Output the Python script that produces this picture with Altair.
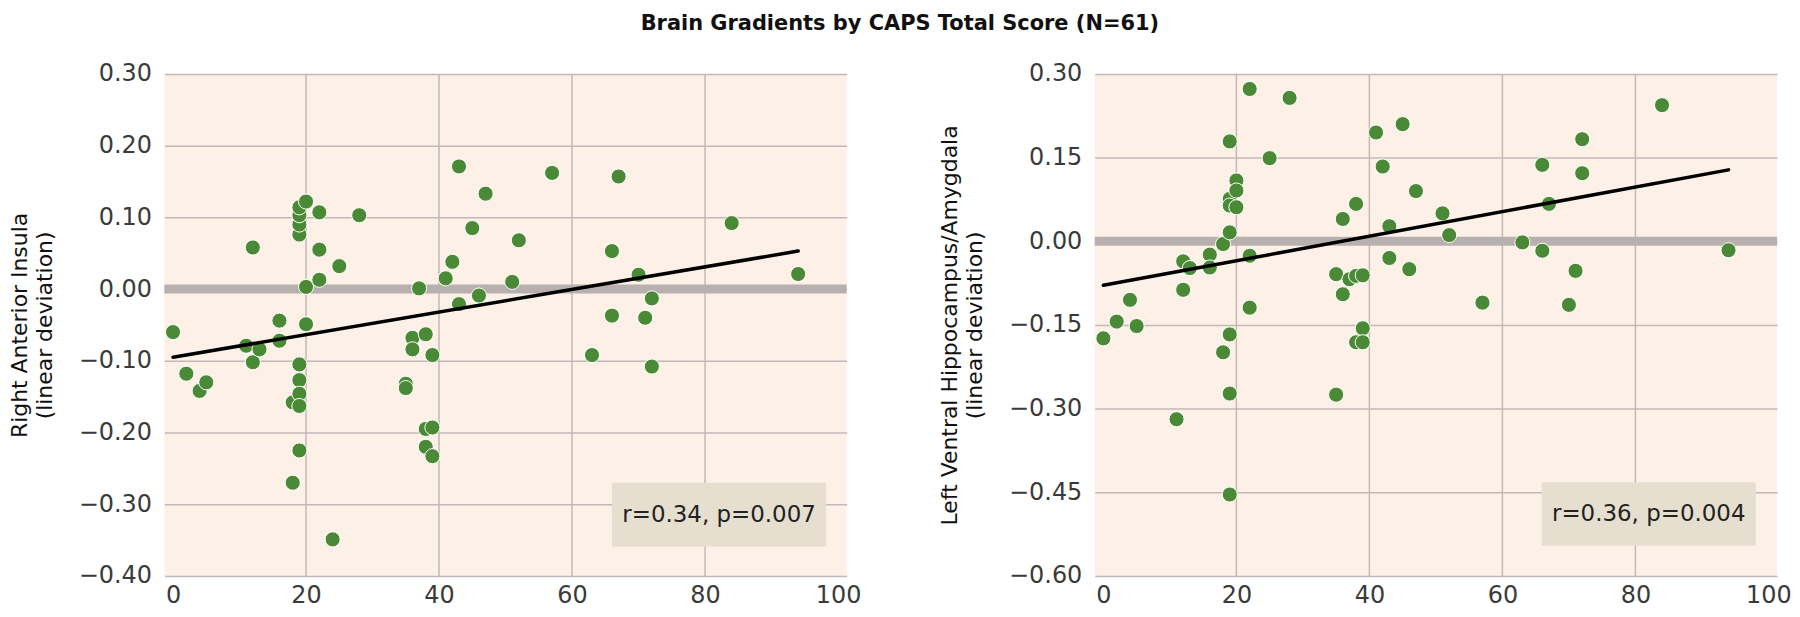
import altair as alt
import pandas as pd

# ---- data ----
caps_left = [0, 2, 4, 5, 11, 12, 12, 13, 16, 16, 18, 18, 19, 19, 19, 19, 20, 19, 19, 19, 19, 19,
             20, 20, 22, 22, 22, 24, 25, 28, 35, 35, 36, 36, 37, 38, 38, 38, 39, 39, 39, 41, 42, 43,
             43, 45, 46, 47, 51, 52, 57, 63, 66, 66, 67, 70, 71, 72, 72, 84, 94]
insula = [-0.060, -0.118, -0.142, -0.130, -0.079, 0.058, -0.102, -0.084, -0.044, -0.072, -0.158,
          -0.270, 0.076, 0.090, 0.103, 0.114, 0.122, -0.105, -0.127, -0.146, -0.163, -0.225,
          0.003, -0.049, 0.107, 0.055, 0.013, -0.349, 0.032, 0.103, -0.132, -0.138, -0.068,
          -0.084, 0.001, -0.063, -0.195, -0.220, -0.092, -0.193, -0.233, 0.015, 0.038, 0.171,
          -0.021, 0.085, -0.009, 0.133, 0.010, 0.068, 0.162, -0.092, 0.053, -0.037, 0.157,
          0.020, -0.040, -0.013, -0.108, 0.092, 0.021]

caps_right = [0, 2, 4, 5, 11, 12, 12, 13, 16, 16, 18, 18, 19, 19, 19, 19, 19, 19, 19, 20, 20, 20,
              22, 22, 22, 25, 28, 35, 35, 36, 36, 37, 38, 38, 38, 39, 39, 39, 41, 42, 43, 43, 45,
              46, 47, 51, 52, 57, 63, 66, 66, 67, 70, 71, 72, 72, 84, 94]
hippo = [-0.174, -0.144, -0.105, -0.152, -0.319, -0.036, -0.087, -0.048, -0.024, -0.047, -0.005,
         -0.199, 0.179, 0.076, 0.064, 0.016, -0.167, -0.273, -0.454, 0.109, 0.091, 0.061, 0.273,
         -0.026, -0.119, 0.149, 0.257, -0.059, -0.275, 0.040, -0.095, -0.068, 0.067, -0.062,
         -0.181, -0.061, -0.156, -0.181, 0.195, 0.134, 0.027, -0.030, 0.210, -0.050, 0.090,
         0.050, 0.011, -0.110, -0.002, 0.137, -0.017, 0.067, -0.114, -0.053, 0.183, 0.122,
         0.244, -0.016]

# fitted lines (end points)
fit_x = [0, 94]
fit_left = [-0.095, 0.053]
fit_right = [-0.079, 0.128]

x_ticks = [0, 20, 40, 60, 80, 100]
x_grid = [20, 40, 60, 80]
y_ticks_left = [-0.40, -0.30, -0.20, -0.10, 0.00, 0.10, 0.20, 0.30]
y_ticks_right = [-0.60, -0.45, -0.30, -0.15, 0.00, 0.15, 0.30]
stats_left = "r=0.34, p=0.007"
stats_right = "r=0.36, p=0.004"

FONT = "DejaVu Sans"
GREEN = "#4a8a36"
GRID = "#c2b8b8"
ZERO = "#b8afaf"
BOX = "#e6dfd0"
BG = "#fdf1e7"

one = pd.DataFrame({"a": [0]})


def panel(xs, ys, fit_y, ydom, yticks, ytitle, stats, box):
    df = pd.DataFrame({"x": xs, "y": ys})
    fit = pd.DataFrame({"x": fit_x, "y": fit_y})
    xscale = alt.Scale(domain=[-1.3, 101.3], nice=False, zero=False)
    yscale = alt.Scale(domain=ydom, nice=False, zero=False)
    xaxis = alt.Axis(values=x_ticks, grid=False, domain=False, ticks=False,
                     labelFontSize=24, labelPadding=8, title=None,
                     labelColor="#3a3a3a", labelFont=FONT)
    yaxis = alt.Axis(values=yticks, format=".2f", grid=True, gridColor=GRID,
                     gridWidth=1.5, domain=False, ticks=False,
                     labelFontSize=24, labelPadding=13,
                     labelColor="#3a3a3a", labelFont=FONT, title=ytitle, titleFont=FONT,
                     titleFontSize=22, titleFontWeight="normal",
                     titleColor="#111111", titleLineHeight=25, titlePadding=22)

    gx = alt.Chart(pd.DataFrame({"g": x_grid})).mark_rule(
        color=GRID, strokeWidth=1.5
    ).encode(x=alt.X("g:Q", scale=xscale, axis=xaxis))

    zero = alt.Chart(one).mark_rule(color=ZERO, strokeWidth=9).encode(
        y=alt.datum(0, scale=yscale, axis=yaxis)
    )

    pts = alt.Chart(df).mark_circle(
        size=230, color=GREEN, opacity=1, stroke="white", strokeWidth=1
    ).encode(
        x=alt.X("x:Q", scale=xscale, axis=xaxis),
        y=alt.Y("y:Q", scale=yscale, axis=yaxis),
    )

    reg = alt.Chart(fit).mark_line(
        color="black", strokeWidth=3.5, strokeCap="round"
    ).encode(x=alt.X("x:Q", scale=xscale), y=alt.Y("y:Q", scale=yscale))

    rect = alt.Chart(one).mark_rect(color=BOX).encode(
        x=alt.datum(box[0]), x2=alt.datum(box[1]),
        y=alt.datum(box[2]), y2=alt.datum(box[3]),
    )
    txt = alt.Chart(one).mark_text(
        fontSize=23, font=FONT, color="#222222"
    ).encode(
        x=alt.datum((box[0] + box[1]) / 2),
        y=alt.datum((box[2] + box[3]) / 2),
        text=alt.value(stats),
    )
    return alt.layer(gx, zero, pts, reg, rect, txt).properties(width=685, height=504)


left = panel(caps_left, insula, fit_left, [-0.40, 0.30], y_ticks_left,
             ["Right Anterior Insula", "(linear deviation)"], stats_left,
             (66.0, 98.2, -0.270, -0.359))
right = panel(caps_right, hippo, fit_right, [-0.60, 0.30], y_ticks_right,
              ["Left Ventral Hippocampus/Amygdala", "(linear deviation)"], stats_right,
              (65.9, 98.1, -0.432, -0.546))

chart = alt.hconcat(left, right, spacing=77).properties(
    title=alt.TitleParams(
        "Brain Gradients by CAPS Total Score (N=61)",
        fontSize=21, font=FONT, fontWeight="bold", color="#111111",
        anchor="middle", offset=28,
    ),
    background="white",
    padding={"left": 0, "top": 4, "right": 0, "bottom": 2},
).configure_view(fill=BG, stroke=None)

chart.save("out.html", embed_options={"renderer": "svg", "actions": False})
